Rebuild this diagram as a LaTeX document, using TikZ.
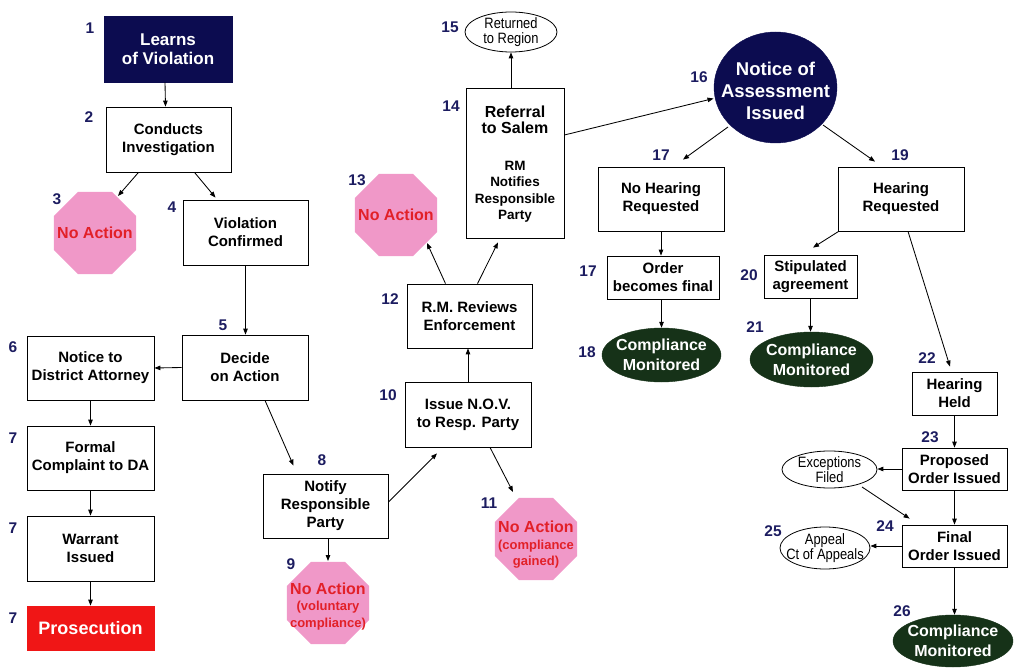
\documentclass[tikz,border=0pt]{standalone}
\usepackage{fontspec}
\setmainfont{Liberation Sans}
\newfontfamily\narrowf[FakeStretch=0.86]{Liberation Sans}
\usetikzlibrary{shapes.geometric,arrows.meta,calc}
\definecolor{navy}{RGB}{12,12,80}
\definecolor{labc}{RGB}{28,28,96}
\definecolor{dgreen}{RGB}{22,50,24}
\definecolor{pinkc}{RGB}{240,152,200}
\definecolor{redtxt}{RGB}{226,32,40}
\definecolor{redbox}{RGB}{240,22,22}
\begin{document}
\begin{tikzpicture}[x=1pt,y=-1pt,
  box/.style={draw=black, fill=white, line width=0.8pt, inner sep=1pt, align=center,
    font=\bfseries\fontsize{15}{18}\selectfont},
  oct/.style={regular polygon, regular polygon sides=8, fill=pinkc, draw=none,
    inner sep=0pt, minimum size=89pt},
  octtext/.style={text=redtxt, font=\bfseries\fontsize{13}{16.5}\selectfont, align=center, inner sep=0pt},
  num/.style={text=labc, font=\bfseries\fontsize{15.5}{15.5}\selectfont, inner sep=0pt},
  gell/.style={ellipse, fill=dgreen, draw=dgreen, inner sep=0pt, minimum width=120pt, minimum height=54pt},
  wtext/.style={text=white, font=\bfseries\fontsize{16}{20}\selectfont, align=center, inner sep=0pt},
  nell/.style={ellipse, draw=black, line width=0.8pt, fill=white, inner sep=0pt},
  ntext/.style={font=\narrowf\fontsize{15}{15}\selectfont, align=center, inner sep=0pt},
  arr/.style={-{Triangle[length=6pt,width=4.5pt]}, line width=0.85pt}]
\useasboundingbox (0,0) rectangle (1018,671);

% ---- left column ----
\node[box, fill=navy, draw=navy, text=white, font=\bfseries\fontsize{17}{19}\selectfont,
  minimum width=128pt, minimum height=66pt] (n1) at (168,49) {Learns\\of Violation};
\node[box, minimum width=125pt, minimum height=65pt] (n2) at (168.5,139.5) {Conducts\\Investigation};
\node[oct] (n3) at (95,233) {};
\node[octtext, font=\bfseries\fontsize{16}{16}\selectfont] (t3) at (n3) {No Action};
\node[box, minimum width=125pt, minimum height=65pt] (n4) at (245.5,232.5) {Violation\\Confirmed};
\node[box, minimum width=126pt, minimum height=65pt] (n5) at (245,367.5) {Decide\\on Action};
\node[box, minimum width=127pt, minimum height=64pt] (n6) at (90.5,368) {Notice to\\District Attorney};
\node[box, minimum width=127pt, minimum height=64pt] (n7a) at (90.5,458) {Formal\\Complaint to DA};
\node[box, minimum width=127pt, minimum height=65pt] (n7b) at (90.5,548.5) {Warrant\\Issued};
\node[box, fill=redbox, draw=redbox, text=white, font=\bfseries\fontsize{18}{20}\selectfont,
  minimum width=127pt, minimum height=44pt] (n7c) at (90.5,628) {Prosecution};

% ---- middle ----
\node[box, minimum width=125pt, minimum height=64pt] (n8) at (325.5,506) {Notify\\Responsible\\Party};
\node[oct] (n9) at (328,603) {};
\node[octtext] (t9) at ($(n9)+(0,3.5)$) {{\fontsize{16}{16}\selectfont No Action}\\(voluntary\\compliance)};
\node[box, minimum width=126pt, minimum height=65pt] (n10) at (468,414.5) {Issue N.O.V.\\to Resp. Party};
\node[oct] (n11) at (536,539) {};
\node[octtext] (t11) at ($(n11)+(0,6)$) {{\fontsize{16}{16}\selectfont No Action}\\(compliance\\gained)};
\node[box, minimum width=125pt, minimum height=64pt] (n12) at (469.5,316) {R.M. Reviews\\Enforcement};
\node[oct] (n13) at (396,215) {};
\node[octtext, font=\bfseries\fontsize{16}{16}\selectfont] (t13) at (n13) {No Action};
\node[box, minimum width=98pt, minimum height=150pt] (n14) at (515,163) {};
\node[font=\bfseries\fontsize{16}{16.5}\selectfont, align=center, inner sep=0pt] (t14a) at (515,120) {Referral\\to Salem};
\node[font=\bfseries\fontsize{13.5}{16.5}\selectfont, align=center, inner sep=0pt] (t14b) at (515,192) {RM\\Notifies\\Responsible\\Party};
\node[nell, minimum width=92pt, minimum height=40pt] (n15) at (511,32) {};
\node[ntext] (t15) at (n15) {Returned\\to Region};

% ---- right ----
\node[ellipse, fill=navy, draw=navy, minimum width=123pt, minimum height=111pt, inner sep=0pt] (n16) at (775.5,87.5) {};
\node[wtext, font=\bfseries\fontsize{18.5}{22}\selectfont] (t16) at ($(n16)+(0,3)$) {Notice of\\Assessment\\Issued};
\node[box, minimum width=126pt, minimum height=64pt] (n17a) at (661,199) {No Hearing\\Requested};
\node[box, minimum width=112pt, minimum height=43pt] (n17b) at (663,277.5) {Order\\becomes final};
\node[gell, minimum width=119pt] (n18) at (661.5,355) {};
\node[wtext] (t18) at (n18) {Compliance\\Monitored};
\node[box, minimum width=126pt, minimum height=64pt] (n19) at (901,199) {Hearing\\Requested};
\node[box, minimum width=93pt, minimum height=43pt] (n20) at (810.5,276.5) {Stipulated\\agreement};
\node[gell, minimum width=123pt, minimum height=55pt] (n21) at (811.5,359.5) {};
\node[wtext] (t21) at (n21) {Compliance\\Monitored};
\node[box, minimum width=85pt, minimum height=43pt] (n22) at (954.5,393.5) {Hearing\\Held};
\node[box, minimum width=105pt, minimum height=42pt] (n23) at (954.5,469) {Proposed\\Order Issued};
\node[nell, minimum width=95pt, minimum height=37pt] (nEx) at (829.5,469.5) {};
\node[ntext] (tEx) at (nEx) {Exceptions\\Filed};
\node[box, minimum width=105pt, minimum height=42pt] (n24) at (954.5,546) {Final\\Order Issued};
\node[nell, minimum width=90pt, minimum height=42pt] (n25) at (825,548) {};
\node[ntext] (t25) at (n25) {Appeal\\Ct of Appeals};
\node[gell, minimum width=120pt, minimum height=52pt] (n26) at (953,641) {};
\node[wtext] (t26) at (n26) {Compliance\\Monitored};

% ---- number labels ----
\node[num] (l1) at (90,28) {1};
\node[num] (l2) at (89,117) {2};
\node[num] (l3) at (57,199) {3};
\node[num] (l4) at (172,207) {4};
\node[num] (l5) at (223,325) {5};
\node[num] (l6) at (13,347) {6};
\node[num] (l7a) at (13,438) {7};
\node[num] (l7b) at (13,528) {7};
\node[num] (l7c) at (13,618) {7};
\node[num] (l8) at (322,460) {8};
\node[num] (l9) at (291,564) {9};
\node[num] (l10) at (388,395) {10};
\node[num] (l11) at (489,503) {11};
\node[num] (l12) at (390,299) {12};
\node[num] (l13) at (357,180) {13};
\node[num] (l14) at (451,106) {14};
\node[num] (l15) at (450,27) {15};
\node[num] (l16) at (699,77) {16};
\node[num] (l17a) at (661,155) {17};
\node[num] (l17b) at (588,271) {17};
\node[num] (l18) at (587,352) {18};
\node[num] (l19) at (900,155) {19};
\node[num] (l20) at (749,275) {20};
\node[num] (l21) at (755,327) {21};
\node[num] (l22) at (927,358) {22};
\node[num] (l23) at (930,437) {23};
\node[num] (l24) at (885,526) {24};
\node[num] (l25) at (773,531) {25};
\node[num] (l26) at (902,611) {26};

% ---- connectors ----
\draw[arr] ([xshift=-3pt]n1.south) -- ([xshift=-3pt]n2.north);
\draw[arr] ([xshift=-30pt]n2.south) -- ($(n3)+(23,-37)$);
\draw[arr] ([xshift=26pt]n2.south) -- ([xshift=-30pt,yshift=2pt]n4.north);
\draw[arr] (n4.south) -- (n4.south |- n5.north);
\draw[arr] (n5.west) -- (n6.east);
\draw[arr] (n6.south) -- (n7a.north);
\draw[arr] (n7a.south) -- (n7b.north);
\draw[arr] (n7b.south) -- (n7c.north);
\draw[arr] ([xshift=20pt]n5.south) -- ([xshift=-32pt,yshift=8pt]n8.north);
\draw[arr] (n8.south -| n9) -- ($(n9)+(0,-42)$);
\draw[arr] ([yshift=4pt]n8.east) -- ([xshift=-31pt,yshift=-6pt]n10.south);
\draw[arr] ([xshift=22pt]n10.south) -- ($(n11)+(-23,-47)$);
\draw[arr] (n10.north) -- (n10.north |- n12.south);
\draw[arr] ([xshift=-24pt]n12.north) -- ($(n13)+(31,28)$);
\draw[arr] ([xshift=8pt]n12.north) -- ([xshift=-17pt,yshift=-4pt]n14.south);
\draw[arr] (n15.south |- n14.north) -- (n15.south);
\draw[arr] ([yshift=28pt]n14.east) -- ($(n16)+(-62,11)$);
\draw[arr] ($(n16)+(-47.5,39.5)$) -- ([xshift=22pt,yshift=7pt]n17a.north);
\draw[arr] ($(n16)+(47.5,37.5)$) -- ([xshift=-26pt,yshift=5pt]n19.north);
\draw[arr] (n17a.south) -- (n17a.south |- n17b.north);
\draw[arr] (n17b.south -| n18.north) -- (n18.north);
\draw[arr] ([xshift=1pt]n19.south west) -- ([xshift=2.5pt,yshift=7pt]n20.north);
\draw[arr] (n20.south) -- (n20.south |- n21.north);
\draw[arr] ([xshift=7pt]n19.south) -- ([xshift=-4.5pt,yshift=5pt]n22.north);
\draw[arr] (n22.south) -- (n23.north);
\draw[arr] (n23.west) -- (n23.west -| nEx.east);
\draw[arr] ($(nEx)+(32.5,17.5)$) -- ([xshift=8pt,yshift=6pt]n24.north west);
\draw[arr] (n23.south) -- (n24.north);
\draw[arr] (n24.west) -- (n24.west -| n25.east);
\draw[arr] (n24.south) -- (n24.south |- n26.north);
\end{tikzpicture}
\end{document}
